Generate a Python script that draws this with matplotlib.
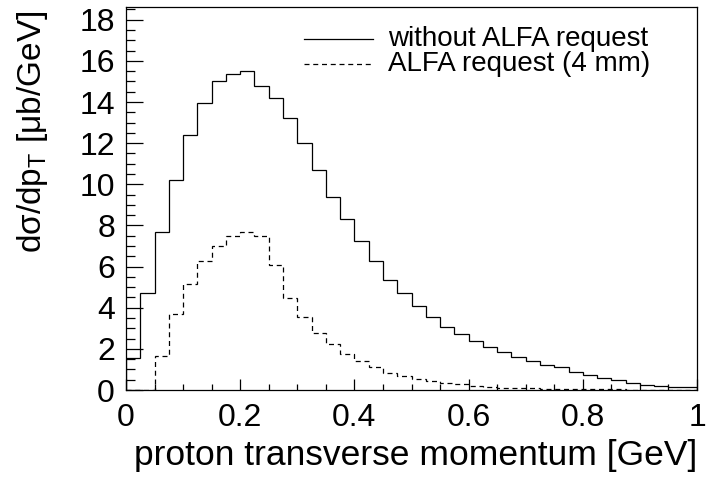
import matplotlib
matplotlib.use("Agg")
import matplotlib.pyplot as plt
import numpy as np
from matplotlib.lines import Line2D
from matplotlib.ticker import MultipleLocator

plt.rcParams['font.family'] = ['Liberation Sans', 'DejaVu Sans']
plt.rcParams['mathtext.fontset'] = 'custom'
plt.rcParams['mathtext.rm'] = 'Liberation Sans'
plt.rcParams['mathtext.it'] = 'Liberation Sans:italic'

# proton pT spectrum, 40 bins of 0.025 GeV
bin_width = 0.025
edges = np.arange(41) * bin_width

no_alfa = [1.55, 4.74, 7.67, 10.22, 12.38, 13.97, 15.04, 15.36, 15.52, 14.79,
           14.18, 13.22, 12.00, 10.69, 9.38, 8.31, 7.22, 6.25, 5.35, 4.70,
           4.07, 3.57, 3.07, 2.71, 2.38, 2.11, 1.86, 1.62, 1.43, 1.23,
           1.10, 0.89, 0.73, 0.60, 0.49, 0.36, 0.26, 0.19, 0.16, 0.13]

alfa_4mm = [0.0, 0.0, 1.67, 3.68, 5.13, 6.29, 6.98, 7.49, 7.70, 7.51,
            6.07, 4.48, 3.57, 2.79, 2.22, 1.74, 1.41, 1.13, 0.84, 0.70,
            0.55, 0.44, 0.36, 0.28, 0.21, 0.15, 0.12, 0.10, 0.08, 0.06,
            0.05, 0.04, 0.04, 0.03, 0.03, 0.02, 0.02, 0.02, 0.01, 0.01]

labels = ['without ALFA request', 'ALFA request (4 mm)']

fig = plt.figure(figsize=(7.06, 4.79), dpi=100)
ax = fig.add_axes([0.1785, 0.1858, 0.8088, 0.7996])

dashes = (0, (4, 3))
styles = ['-', dashes]
ax.stairs(no_alfa, edges, baseline=0, color='black', lw=0.9, linestyle=styles[0])
ax.stairs(alfa_4mm, edges, baseline=0, color='black', lw=0.9, linestyle=styles[1])

ax.set_xlim(0, 1)
ax.set_ylim(0, 18.62)

ax.xaxis.set_major_locator(MultipleLocator(0.2))
ax.xaxis.set_minor_locator(MultipleLocator(0.05))
ax.yaxis.set_major_locator(MultipleLocator(2))
ax.yaxis.set_minor_locator(MultipleLocator(0.5))
ax.xaxis.set_major_formatter(plt.FuncFormatter(lambda v, p: '%g' % round(v, 2)))

ax.tick_params(which='both', direction='in', top=False, right=False,
               labelsize=23, width=0.9)
ax.tick_params(axis='x', which='major', length=8, pad=9)
ax.tick_params(axis='x', which='minor', length=4)
ax.tick_params(axis='y', which='major', length=12, pad=8)
ax.tick_params(axis='y', which='minor', length=6.5)
for sp in ax.spines.values():
    sp.set_linewidth(0.9)

ax.set_xlabel('proton transverse momentum [GeV]', fontsize=25.5, ha='right',
              x=1.0, labelpad=5)
ax.set_ylabel('dσ/dp$_\\mathrm{T}$ [μb/GeV]', fontsize=24,
              ha='right', y=0.99, labelpad=21)

# legend drawn by hand so the rows sit close together
legend_rows = [0.9186, 0.8664]
for lbl, ls, yrow in zip(labels, styles, legend_rows):
    fig.add_artist(Line2D([0.4306, 0.5283], [yrow, yrow], color='black',
                          lw=0.9, linestyle=ls, transform=fig.transFigure))
    fig.text(0.5496, yrow, lbl, fontsize=20, va='center', ha='left')

fig.savefig('out.png', dpi=100)
